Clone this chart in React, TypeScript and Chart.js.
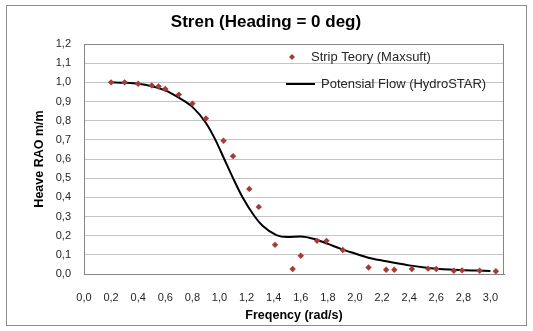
import React, { useEffect, useRef } from "react";
import { Chart, registerables } from "chart.js";

Chart.register(...registerables);

const chartTitle = "Stren (Heading = 0 deg)";
const xAxisTitle = "Freqency (rad/s)";
const yAxisTitle = "Heave RAO m/m";
const stripLabel = "Strip Teory (Maxsuft)";
const flowLabel = "Potensial Flow (HydroSTAR)";

const stripX = [0.2, 0.3, 0.4, 0.5, 0.55, 0.6, 0.7, 0.8, 0.9, 1.03, 1.1, 1.22, 1.29, 1.41, 1.54, 1.6, 1.72, 1.79, 1.91, 2.1, 2.23, 2.29, 2.42, 2.54, 2.6, 2.73, 2.79, 2.92, 3.04];
const stripY = [1.0, 1.0, 0.993, 0.984, 0.978, 0.965, 0.936, 0.889, 0.811, 0.695, 0.615, 0.444, 0.35, 0.152, 0.026, 0.095, 0.173, 0.173, 0.125, 0.034, 0.022, 0.022, 0.026, 0.028, 0.026, 0.017, 0.019, 0.017, 0.014];

const flowX = [0.2, 0.3, 0.4, 0.5, 0.6, 0.7, 0.8, 0.9, 0.97, 1.035, 1.1, 1.17, 1.26, 1.32, 1.42, 1.5, 1.6, 1.7, 1.8, 1.9, 2.0, 2.1, 2.2, 2.3, 2.4, 2.5, 2.6, 2.7, 2.8, 2.9, 3.0];
const flowY = [1.0, 0.998, 0.993, 0.98, 0.958, 0.92, 0.872, 0.788, 0.7, 0.6, 0.5, 0.4, 0.3, 0.25, 0.203, 0.193, 0.196, 0.183, 0.157, 0.13, 0.107, 0.085, 0.07, 0.057, 0.045, 0.035, 0.028, 0.023, 0.02, 0.018, 0.016];

const xTickValues = [0, 0.2, 0.4, 0.6, 0.8, 1.0, 1.2, 1.4, 1.6, 1.8, 2.0, 2.2, 2.4, 2.6, 2.8, 3.0];
const xMin = 0;
const xMax = 3.1;
const yMin = 0;
const yMax = 1.2;
const yStep = 0.1;

const markerColor = "#A33B39";
const textColor = "#262626";
const FONT = "'Liberation Sans', Arial, sans-serif";

const fmt = (v: number) => v.toFixed(1).replace(".", ",");

const decorPlugin = {
  id: "decor",
  beforeDraw(chart: any) {
    const ctx = chart.ctx;
    ctx.save();
    ctx.fillStyle = "#ffffff";
    ctx.fillRect(0, 0, chart.width, chart.height);
    ctx.strokeStyle = "#8c8c8c";
    ctx.lineWidth = 1;
    ctx.strokeRect(6.5, 5.5, 520, 320);
    ctx.restore();
  },
  afterDatasetsDraw(chart: any) {
    const ctx = chart.ctx;
    const a = chart.chartArea;
    ctx.save();
    ctx.strokeStyle = "#868686";
    ctx.lineWidth = 1;
    ctx.strokeRect(Math.round(a.left) + 0.5, Math.round(a.top) + 0.5, Math.round(a.right - a.left) - 1, Math.round(a.bottom - a.top));
    ctx.restore();
  },
  afterDraw(chart: any) {
    const ctx = chart.ctx;
    ctx.save();
    ctx.fillStyle = "#000000";
    ctx.font = `bold 17px ${FONT}`;
    ctx.textAlign = "center";
    ctx.textBaseline = "middle";
    ctx.fillText(chartTitle, 266, 22);
    ctx.font = `13px ${FONT}`;
    ctx.textAlign = "left";
    const y1 = 57;
    const y2 = 84;
    ctx.fillStyle = markerColor;
    ctx.beginPath();
    ctx.moveTo(292, y1 - 3);
    ctx.lineTo(295, y1);
    ctx.lineTo(292, y1 + 3);
    ctx.lineTo(289, y1);
    ctx.closePath();
    ctx.fill();
    ctx.fillStyle = textColor;
    ctx.fillText(stripLabel, 311, y1);
    ctx.strokeStyle = "#000000";
    ctx.lineWidth = 2;
    ctx.beginPath();
    ctx.moveTo(286, y2);
    ctx.lineTo(315, y2);
    ctx.stroke();
    ctx.fillText(flowLabel, 321, y2);
    ctx.restore();
  },
};

export default function App() {
  const ref = useRef<HTMLCanvasElement | null>(null);

  useEffect(() => {
    if (!ref.current) return;
    const chart = new Chart(ref.current, {
      type: "scatter",
      data: {
        datasets: [
          {
            label: stripLabel,
            data: stripX.map((x, i) => ({ x, y: stripY[i] })),
            pointStyle: "rectRot",
            pointRadius: 3.2,
            backgroundColor: markerColor,
            borderColor: markerColor,
            borderWidth: 0,
            showLine: false,
            order: 1,
          },
          {
            label: flowLabel,
            data: flowX.map((x, i) => ({ x, y: flowY[i] })),
            showLine: true,
            pointRadius: 0,
            borderColor: "#000000",
            borderWidth: 2,
            cubicInterpolationMode: "monotone",
            fill: false,
            order: 2,
          },
        ],
      },
      options: {
        animation: false,
        responsive: false,
        layout: { padding: { left: 0, top: 44, right: 29, bottom: 0 } },
        plugins: {
          legend: { display: false },
          tooltip: { enabled: false },
          title: { display: false },
        },
        scales: {
          x: {
            type: "linear",
            min: xMin,
            max: xMax,
            afterBuildTicks: (scale: any) => {
              scale.ticks = xTickValues.map((value) => ({ value }));
            },
            afterFit: (scale: any) => {
              scale.height = 57;
            },
            ticks: {
              padding: 17,
              color: textColor,
              font: { family: FONT, size: 11 },
              callback: (v: any) => fmt(Number(v)),
              maxRotation: 0,
              autoSkip: false,
            },
            grid: { display: false, drawTicks: false },
            border: { display: true, color: "#868686" },
            title: {
              display: true,
              text: xAxisTitle,
              color: "#000000",
              font: { family: FONT, size: 12.5, weight: "bold" },
              padding: { top: 0, bottom: 7.5 },
            },
          },
          y: {
            type: "linear",
            min: yMin,
            max: yMax,
            afterFit: (scale: any) => {
              scale.width = 84;
            },
            ticks: {
              stepSize: yStep,
              padding: 13,
              color: textColor,
              font: { family: FONT, size: 11 },
              callback: (v: any) => fmt(Number(v)),
            },
            grid: { color: "#C4C4C4", drawTicks: false },
            border: { display: true, color: "#868686" },
            title: {
              display: true,
              text: yAxisTitle,
              color: "#000000",
              font: { family: FONT, size: 12.5, weight: "bold" },
              padding: { top: 32.5, bottom: 0 },
            },
          },
        },
      },
      plugins: [decorPlugin],
    } as any);
    return () => chart.destroy();
  }, []);

  return (
    <div style={{ position: "fixed", left: 0, top: 0, width: 533, height: 331, background: "#fff" }}>
      <canvas ref={ref} width={533} height={331} style={{ display: "block", width: 533, height: 331 }} />
    </div>
  );
}
